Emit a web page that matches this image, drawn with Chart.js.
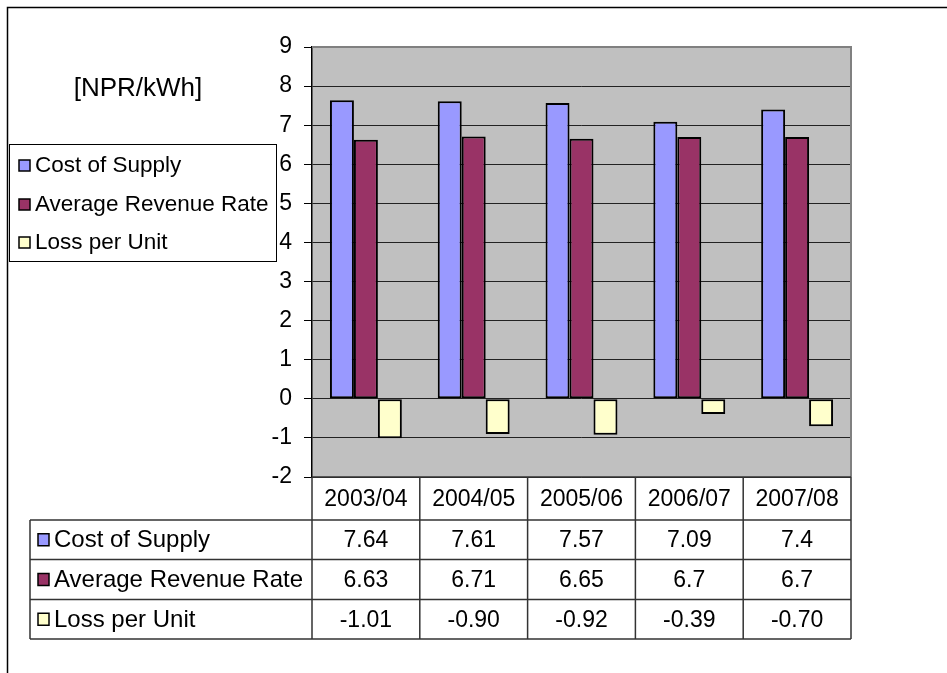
<!DOCTYPE html>
<html>
<head>
<meta charset="utf-8">
<script src="https://cdn.jsdelivr.net/npm/chart.js@4.4.1/dist/chart.umd.min.js"></script>
<style>
html,body{margin:0;padding:0;background:#fff;}
#wrap{width:947px;height:673px;position:relative;}
</style>
</head>
<body>
<div id="wrap"><canvas id="c" width="947" height="673"></canvas></div>
<script>
const categories = ['2003/04', '2004/05', '2005/06', '2006/07', '2007/08'];
const seriesNames = ['Cost of Supply', 'Average Revenue Rate', 'Loss per Unit'];
const costOfSupply = [7.64, 7.61, 7.57, 7.09, 7.4];
const averageRevenueRate = [6.63, 6.71, 6.65, 6.7, 6.7];
const lossPerUnit = [-1.01, -0.90, -0.92, -0.39, -0.70];
const yTicks = [-2, -1, 0, 1, 2, 3, 4, 5, 6, 7, 8, 9];
const unitLabel = '[NPR/kWh]';

const colors = ['#9999FF', '#993366', '#FFFFCC'];
const FONT = "'Liberation Sans', Arial, sans-serif";
const seriesData = [costOfSupply, averageRevenueRate, lossPerUnit];
const fmt = [v => String(v), v => String(v), v => v.toFixed(2)];

const decor = {
  id: 'decor',
  beforeDraw(chart) {
    const ctx = chart.ctx, a = chart.chartArea;
    ctx.save();
    ctx.fillStyle = '#fff';
    ctx.fillRect(0, 0, chart.width, chart.height);
    ctx.fillStyle = '#C0C0C0';
    ctx.fillRect(a.left, a.top, a.right - a.left, a.bottom - a.top);
    ctx.restore();
  },
  afterDraw(chart) {
    const ctx = chart.ctx, a = chart.chartArea;
    const xs = chart.scales.x;
    const n = categories.length;
    const cw = (a.right - a.left) / n;
    ctx.save();
    // plot border top/right gray
    ctx.strokeStyle = '#808080';
    ctx.lineWidth = 2;
    ctx.beginPath();
    ctx.moveTo(a.left, a.top); ctx.lineTo(a.right, a.top); ctx.lineTo(a.right, a.bottom);
    ctx.stroke();

    // outer frame
    ctx.strokeStyle = '#000';
    ctx.lineWidth = 1.5;
    ctx.beginPath();
    ctx.moveTo(7.5, 673); ctx.lineTo(7.5, 7.5); ctx.lineTo(947, 7.5);
    ctx.stroke();

    // unit label
    ctx.fillStyle = '#000';
    ctx.font = '26px ' + FONT;
    ctx.textAlign = 'center';
    ctx.textBaseline = 'middle';
    ctx.fillText(unitLabel, 138, 89);

    // legend box
    ctx.fillStyle = '#fff';
    ctx.fillRect(9, 144, 267, 117);
    ctx.strokeStyle = '#000';
    ctx.lineWidth = 1;
    ctx.strokeRect(9.5, 144.5, 267, 117);
    const legY = [165, 204, 242];
    ctx.font = '22.5px ' + FONT;
    ctx.textAlign = 'left';
    for (let i = 0; i < seriesNames.length; i++) {
      ctx.fillStyle = colors[i];
      ctx.fillRect(19, legY[i] - 5, 11, 11);
      ctx.strokeStyle = '#000';
      ctx.lineWidth = 1.5;
      ctx.strokeRect(19, legY[i] - 5, 11, 11);
      ctx.fillStyle = '#000';
      ctx.fillText(seriesNames[i], 35, legY[i] + 1);
    }

    // data table
    const tTop = a.bottom, hBot = 520;
    const rowB = [520, 559.5, 599.5, 639];
    const tLeft = 30;
    ctx.strokeStyle = '#333';
    ctx.lineWidth = 1.5;
    ctx.beginPath();
    ctx.moveTo(a.left, tTop); ctx.lineTo(a.right, tTop);
    for (let r = 0; r < rowB.length; r++) {
      ctx.moveTo(tLeft, rowB[r]); ctx.lineTo(a.right, rowB[r]);
    }
    ctx.moveTo(tLeft, rowB[0]); ctx.lineTo(tLeft, rowB[3]);
    for (let i = 0; i <= n; i++) {
      const x = a.left + i * cw;
      ctx.moveTo(x, tTop); ctx.lineTo(x, rowB[3]);
    }
    ctx.stroke();

    ctx.fillStyle = '#000';
    ctx.font = '23px ' + FONT;
    ctx.textAlign = 'center';
    ctx.textBaseline = 'middle';
    for (let i = 0; i < n; i++) {
      const cx = xs.getPixelForValue(i);
      ctx.fillText(categories[i], cx, (tTop + hBot) / 2 + 1);
      for (let s = 0; s < seriesData.length; s++) {
        const cy = (rowB[s] + rowB[s + 1]) / 2 + 1;
        ctx.fillText(fmt[s](seriesData[s][i]), cx, cy);
      }
    }
    ctx.textAlign = 'left';
    for (let s = 0; s < seriesNames.length; s++) {
      const cy = (rowB[s] + rowB[s + 1]) / 2;
      ctx.fillStyle = colors[s];
      ctx.fillRect(38, cy - 6, 11, 12);
      ctx.strokeStyle = '#000';
      ctx.lineWidth = 1.5;
      ctx.strokeRect(38, cy - 6, 11, 12);
      ctx.fillStyle = '#000';
      ctx.font = '24px ' + FONT;
      ctx.fillText(seriesNames[s], 54, cy + 1);
    }
    ctx.restore();
  }
};

new Chart(document.getElementById('c'), {
  type: 'bar',
  data: {
    labels: categories,
    datasets: seriesNames.map((name, i) => ({
      label: name,
      data: seriesData[i],
      backgroundColor: colors[i],
      borderColor: '#000',
      borderWidth: 2,
      borderSkipped: false,
      categoryPercentage: 0.667,
      barPercentage: 1.0
    }))
  },
  options: {
    responsive: false,
    animation: false,
    layout: { padding: { left: 0, top: 47, right: 96, bottom: 196 } },
    plugins: { legend: { display: false }, tooltip: { enabled: false } },
    scales: {
      x: { display: false },
      y: {
        min: -2, max: 9,
        afterFit(scale) { scale.width = 312; },
        afterBuildTicks(scale) { scale.ticks = yTicks.map(v => ({ value: v })); },
        grid: {
          color: ctx => (ctx.tick && ctx.tick.value === 9) ? 'rgba(0,0,0,0)' : '#222',
          tickColor: '#000',
          tickLength: 8,
          lineWidth: 1
        },
        border: { display: true, color: '#000', width: 1.5 },
        ticks: {
          color: '#000',
          font: { family: FONT, size: 23 },
          padding: 12,
          stepSize: 1
        }
      }
    }
  },
  plugins: [decor]
});
</script>
</body>
</html>
